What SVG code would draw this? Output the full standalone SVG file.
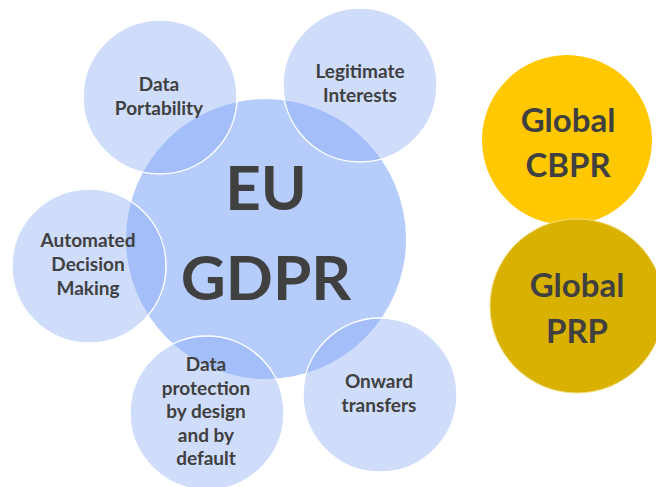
<svg xmlns="http://www.w3.org/2000/svg" width="656" height="487" viewBox="0 0 656 487">
  <style>
    .hub { fill: #b6ccfb; }
    .topic { fill: #86a9f5; fill-opacity: 0.4; stroke: #ffffff; stroke-width: 1.5; }
    .lbl { font-family: Lato, "Open Sans", "Liberation Sans", sans-serif; font-weight: bold; fill: #404040; text-anchor: middle; }
    .small { font-size: 19px; }
    .big { font-size: 62px; }
    .glob { font-size: 33px; }
  </style>
  <rect width="656" height="487" fill="#ffffff"/>

  <!-- central framework -->
  <g id="eu-gdpr">
    <circle class="hub" cx="266" cy="239" r="140"/>
  </g>

  <!-- surrounding topics -->
  <g id="data-portability">
    <circle class="topic" cx="160" cy="97" r="77"/>
    <text class="lbl small" x="159" y="91">Data</text>
    <text class="lbl small" x="159" y="115">Portability</text>
  </g>
  <g id="legitimate-interests">
    <circle class="topic" cx="360" cy="85" r="77"/>
    <text class="lbl small" x="360" y="78">Legitimate</text>
    <text class="lbl small" x="360" y="102">Interests</text>
  </g>
  <g id="automated-decision-making">
    <circle class="topic" cx="89" cy="266" r="77"/>
    <text class="lbl small" x="88" y="247">Automated</text>
    <text class="lbl small" x="88" y="271">Decision</text>
    <text class="lbl small" x="88" y="295">Making</text>
  </g>
  <g id="data-protection">
    <circle class="topic" cx="207" cy="413" r="77"/>
    <text class="lbl small" x="206" y="371">Data</text>
    <text class="lbl small" x="206" y="395">protection</text>
    <text class="lbl small" x="206" y="418">by design</text>
    <text class="lbl small" x="206" y="442">and by</text>
    <text class="lbl small" x="206" y="465">default</text>
  </g>
  <g id="onward-transfers">
    <circle class="topic" cx="380" cy="395" r="77"/>
    <text class="lbl small" x="379" y="388">Onward</text>
    <text class="lbl small" x="379" y="412">transfers</text>
  </g>

  <!-- hub label above the overlaps -->
  <g id="eu-gdpr-label">
    <text class="lbl big" x="266" y="210">EU</text>
    <text class="lbl big" x="266" y="300">GDPR</text>
  </g>

  <!-- global frameworks -->
  <g id="global-cbpr">
    <circle cx="567" cy="140" r="85" fill="#ffc800"/>
    <text class="lbl glob" x="568" y="132">Global</text>
    <text class="lbl glob" x="568" y="177">CBPR</text>
  </g>
  <g id="global-prp">
    <circle cx="577" cy="306" r="87" fill="#d9b100" stroke="#f2dc80" stroke-width="1"/>
    <text class="lbl glob" x="577" y="297">Global</text>
    <text class="lbl glob" x="577" y="343">PRP</text>
  </g>

  <g id="connectors"/>
</svg>
